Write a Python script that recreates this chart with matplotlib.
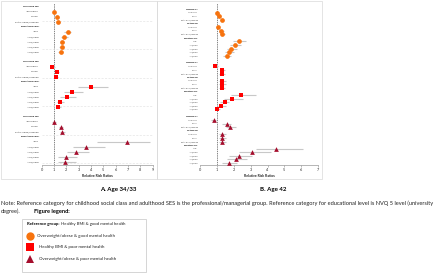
import numpy as np
import matplotlib
matplotlib.use("Agg")
import matplotlib.pyplot as plt
from matplotlib.patches import Rectangle
from matplotlib.lines import Line2D

plt.rcParams["font.family"] = ["Lato", "DejaVu Sans"]

# ---- data (relative risk ratios) ----
ses_items = ["Non-manual", "Manual", "Partly skilled/unskilled"]
edu_items = ["None", "NVQ1 level", "NVQ2 level", "NVQ3 level", "NVQ4 level"]
a_blocks = [("Childhood SES", ses_items), ("Educational level", edu_items)]
b_blocks = [("Childhood SES", ses_items), ("Adulthood SES", ses_items),
            ("Educational level", edu_items)]

group_names = ["Overweight/obese & good mental health",
               "Healthy BMI & poor mental health",
               "Overweight/obese & poor mental health"]
group_colors = ["#F7730E", "#FF0000", "#A50E2D"]
group_markers = ["o", "s", "^"]

# Panel A: age 34/33 (childhood SES x3, education x5)
a_rr = [
    [1.03, 1.27, 1.35, 2.10, 1.84, 1.65, 1.62, 1.55],
    [0.86, 1.22, 1.14, 3.98, 2.44, 2.03, 1.51, 1.35],
    [1.00, 1.54, 1.68, 6.90, 3.60, 2.79, 1.98, 1.89],
]
a_lo = [
    [0.95, 1.15, 1.20, 1.84, 1.55, 1.45, 1.40, 1.35],
    [0.70, 1.05, 1.00, 2.98, 1.84, 1.49, 1.25, 1.20],
    [0.85, 1.40, 1.45, 4.50, 2.57, 2.03, 1.35, 1.35],
]
a_hi = [
    [1.12, 1.40, 1.50, 2.36, 2.10, 1.85, 1.85, 1.75],
    [1.05, 1.40, 1.30, 5.40, 3.38, 2.76, 1.80, 1.60],
    [1.15, 1.70, 1.90, 8.80, 5.15, 3.87, 2.85, 2.80],
]

# Panel B: age 42 (childhood SES x3, adulthood SES x3, education x5)
b_rr = [
    [1.02, 1.10, 1.28, 1.03, 1.25, 1.30, 2.30, 2.04, 1.80, 1.70, 1.60],
    [0.90, 1.30, 1.28, 1.30, 1.30, 1.28, 2.44, 1.90, 1.44, 1.24, 1.00],
    [0.80, 1.56, 1.76, 1.30, 1.28, 1.30, 4.50, 3.10, 2.30, 2.10, 1.70],
]
b_lo = [
    [0.95, 1.00, 1.15, 0.95, 1.12, 1.15, 1.96, 1.76, 1.56, 1.44, 1.36],
    [0.75, 1.15, 1.10, 1.12, 1.12, 1.10, 1.80, 1.40, 1.20, 1.05, 0.85],
    [0.65, 1.30, 1.50, 1.10, 1.10, 1.10, 3.30, 2.30, 1.70, 1.56, 1.30],
]
b_hi = [
    [1.10, 1.22, 1.42, 1.12, 1.40, 1.45, 2.70, 2.44, 2.16, 2.00, 1.84],
    [1.08, 1.48, 1.48, 1.52, 1.52, 1.48, 3.30, 2.56, 1.70, 1.50, 1.20],
    [0.95, 1.85, 2.10, 1.52, 1.50, 1.52, 6.10, 4.23, 3.10, 2.76, 2.20],
]

a_ticks = list(range(0, 10))
b_ticks = list(range(0, 8))

note_text = ("Note: Reference category for childhood social class and adulthood SES is the "
             "professional/managerial group. Reference category for educational level is NVQ 5 level (university")

# ---- layout helpers (pixel coords, origin top-left) ----
W, H = 440, 273


def px_box(x0, y0, x1, y1):
    return [x0 / W, 1 - y1 / H, (x1 - x0) / W, (y1 - y0) / H]


def build_rows(blocks):
    labels, is_head = [], []
    for g in range(3):
        if g > 0:
            labels.append("")
            is_head.append(False)
        for head, items in blocks:
            labels.append(head)
            is_head.append(True)
            for it in items:
                labels.append(it)
                is_head.append(False)
    return labels, is_head


def draw_panel(ax, blocks, rr, lo, hi, ticks, xmax, row_px, top_pad_px, bot_pad_px, lab_size):
    labels, is_head = build_rows(blocks)
    n = len(labels)
    ypos = np.arange(n)
    per = len(labels) // 3 + 1
    for g in range(3):
        idx = [i for i in range(g * per, g * per + per - 1) if not is_head[i]]
        ys = ypos[idx]
        r = np.array(rr[g])
        err = np.vstack([r - np.array(lo[g]), np.array(hi[g]) - r])
        ax.errorbar(r, ys, xerr=err, fmt="none", ecolor="#c8c8c8", elinewidth=0.8,
                    capsize=0, zorder=2)
        ax.plot(r, ys, linestyle="none", marker=group_markers[g], color=group_colors[g],
                markersize=3.4, markeredgewidth=0, zorder=3)
    ax.axvline(1, color="#555555", linestyle=(0, (2, 1.2)), linewidth=0.5, zorder=1)
    ax.set_xlim(0, xmax)
    ax.set_ylim(n - 1 + bot_pad_px / row_px, -top_pad_px / row_px)
    ax.set_yticks(ypos)
    ax.set_yticklabels(labels, fontsize=lab_size, color="#333333")
    for t, h in zip(ax.get_yticklabels(), is_head):
        if h:
            t.set_fontweight("bold")
            t.set_color("#111111")
    ax.tick_params(axis="y", length=0, pad=2)
    ax.set_xticks(ticks)
    ax.set_xticklabels([str(t) for t in ticks], fontsize=2.8, color="#333333")
    ax.tick_params(axis="x", length=1.2, width=0.4, pad=1, color="#888888")
    for s in ["top", "right", "left"]:
        ax.spines[s].set_visible(False)
    ax.spines["bottom"].set_color("#999999")
    ax.spines["bottom"].set_linewidth(0.5)
    ax.set_xlabel("Relative Risk Ratios", fontsize=2.5, fontweight="bold", labelpad=1.5,
                  color="#222222")
    ax.patch.set_alpha(0)
    return n


fig = plt.figure(figsize=(W / 100, H / 100), dpi=100)
fig.patch.set_facecolor("white")

# panel frames
for x0, x1 in [(0.5, 157), (157, 322)]:
    fig.patches.append(Rectangle((x0 / W, 1 - 179 / H), (x1 - x0) / W, 178.5 / H,
                                 transform=fig.transFigure, fill=False,
                                 edgecolor="#d9d9d9", linewidth=0.5))

ax_a = fig.add_axes(px_box(41.7, 3, 152.5, 165))
nA = draw_panel(ax_a, a_blocks, a_rr, a_lo, a_hi, a_ticks, 9, 5.0, 3.7, 3.3, 1.7)
ax_a.set_yticks(np.arange(2.8, nA, 5.7), minor=True)
ax_a.grid(True, which="minor", axis="y", color="#e4e4e4", linestyle=(0, (3, 2)), linewidth=0.5)
ax_a.tick_params(axis="y", which="minor", length=0)

ax_b = fig.add_axes(px_box(200.3, 3, 318, 165))
draw_panel(ax_b, b_blocks, b_rr, b_lo, b_hi, b_ticks, 7, 3.57, 6.3, 2.0, 1.3)

# panel titles
fig.text(118.5 / W, 1 - 189 / H, "A. Age 34/33", fontsize=4.4, fontweight="bold",
         ha="center", va="center")
fig.text(273.5 / W, 1 - 189 / H, "B. Age 42", fontsize=4.4, fontweight="bold",
         ha="center", va="center")

# note
fig.text(1 / W, 1 - 203 / H, note_text, fontsize=4.1, ha="left", va="center", color="#222222")
fig.text(1 / W, 1 - 211 / H, "degree).", fontsize=4.1, ha="left", va="center", color="#222222")
fig.text(34 / W, 1 - 211 / H, "Figure legend:", fontsize=4.1, fontweight="bold",
         ha="left", va="center")

# legend box
fig.patches.append(Rectangle((22 / W, 1 - 272 / H), 124 / W, 53 / H, transform=fig.transFigure,
                             fill=False, edgecolor="#cfcfcf", linewidth=0.6))
ref_lab = fig.text(27 / W, 1 - 224.3 / H, "Reference group:", fontsize=3.1, fontweight="bold",
                   ha="left", va="center")
fig.canvas.draw()
ref_end = ref_lab.get_window_extent(renderer=fig.canvas.get_renderer()).x1
fig.text(ref_end / W + 1.2 / W, 1 - 224.3 / H, "Healthy BMI & good mental health", fontsize=3.1,
         ha="left", va="center", color="#222222")
leg_y = [235.7, 247.3, 259.0]
leg_tx = [37.3, 39.3, 39.3]
for g in range(3):
    fig.add_artist(Line2D([29.6 / W], [1 - leg_y[g] / H], marker=group_markers[g],
                          color=group_colors[g], markersize=6.0, markeredgewidth=0,
                          linestyle="none", transform=fig.transFigure))
    fig.text(leg_tx[g] / W, 1 - leg_y[g] / H, group_names[g], fontsize=3.2,
             ha="left", va="center", color="#222222")

fig.savefig("out.png", dpi=100)
